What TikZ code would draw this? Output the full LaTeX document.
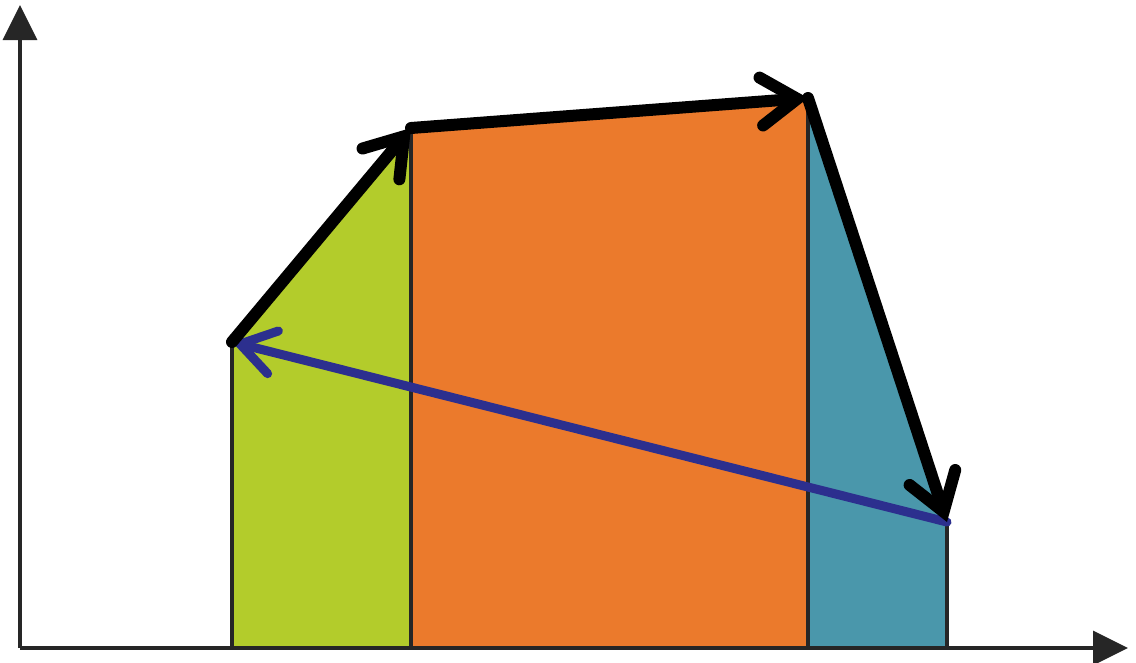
\documentclass[tikz,border=0pt]{standalone}
\usepackage{xcolor}
\usepackage{tikz}
\usetikzlibrary{arrows.meta}
\definecolor{leafgreen}{HTML}{B3CC2B}
\definecolor{warmorange}{HTML}{EB7A2C}
\definecolor{tealblue}{HTML}{4A97AB}
\definecolor{navy}{HTML}{2C2F8E}

\begin{document}
\begin{tikzpicture}[
    x=1pt, y=-1pt,
    axis/.style={line width=3.5pt, draw=black!85, -{Triangle[length=35pt, width=34pt]}},
    edge/.style={line width=3.5pt, draw=black!85},
    path arr/.style={line width=12pt, line cap=round, line join=round, draw=black, -{Straight Barb[length=36pt, width=48pt, line cap=round]}},
    back arr/.style={line width=9pt, line cap=round, draw=navy, -{Straight Barb[length=34pt, width=44pt, line cap=round]}}
]
    \useasboundingbox (0,0) rectangle (1136,662);

    % Corner points of the polygon
    \coordinate (A) at (232,342);
    \coordinate (B) at (411,128);
    \coordinate (C) at (808,98);
    \coordinate (D) at (947,522);
    \coordinate (A0) at (232,648);
    \coordinate (B0) at (411,648);
    \coordinate (C0) at (808,648);
    \coordinate (D0) at (947,648);
    \coordinate (O) at (20,648);

    % Filled strips under the path
    \fill[leafgreen] (A0) -- (A) -- (B) -- (B0) -- cycle;
    \fill[warmorange] (B0) -- (B) -- (C) -- (C0) -- cycle;
    \fill[tealblue] (C0) -- (C) -- (D) -- (D0) -- cycle;
    \draw[edge] (A0) -- (A);
    \draw[edge] (B0) -- (B);
    \draw[edge] (C0) -- (C);
    \draw[edge] (D0) -- (D);

    % Axes
    \draw[axis] (O) -- (20,5);
    \draw[axis] (O) -- (1128,648);

    % Path arrows
    \draw[back arr] (D) -- (A);
    \draw[path arr] (A) -- (B);
    \draw[path arr] (B) -- (C);
    \draw[path arr] (C) -- (D);
\end{tikzpicture}
\end{document}
